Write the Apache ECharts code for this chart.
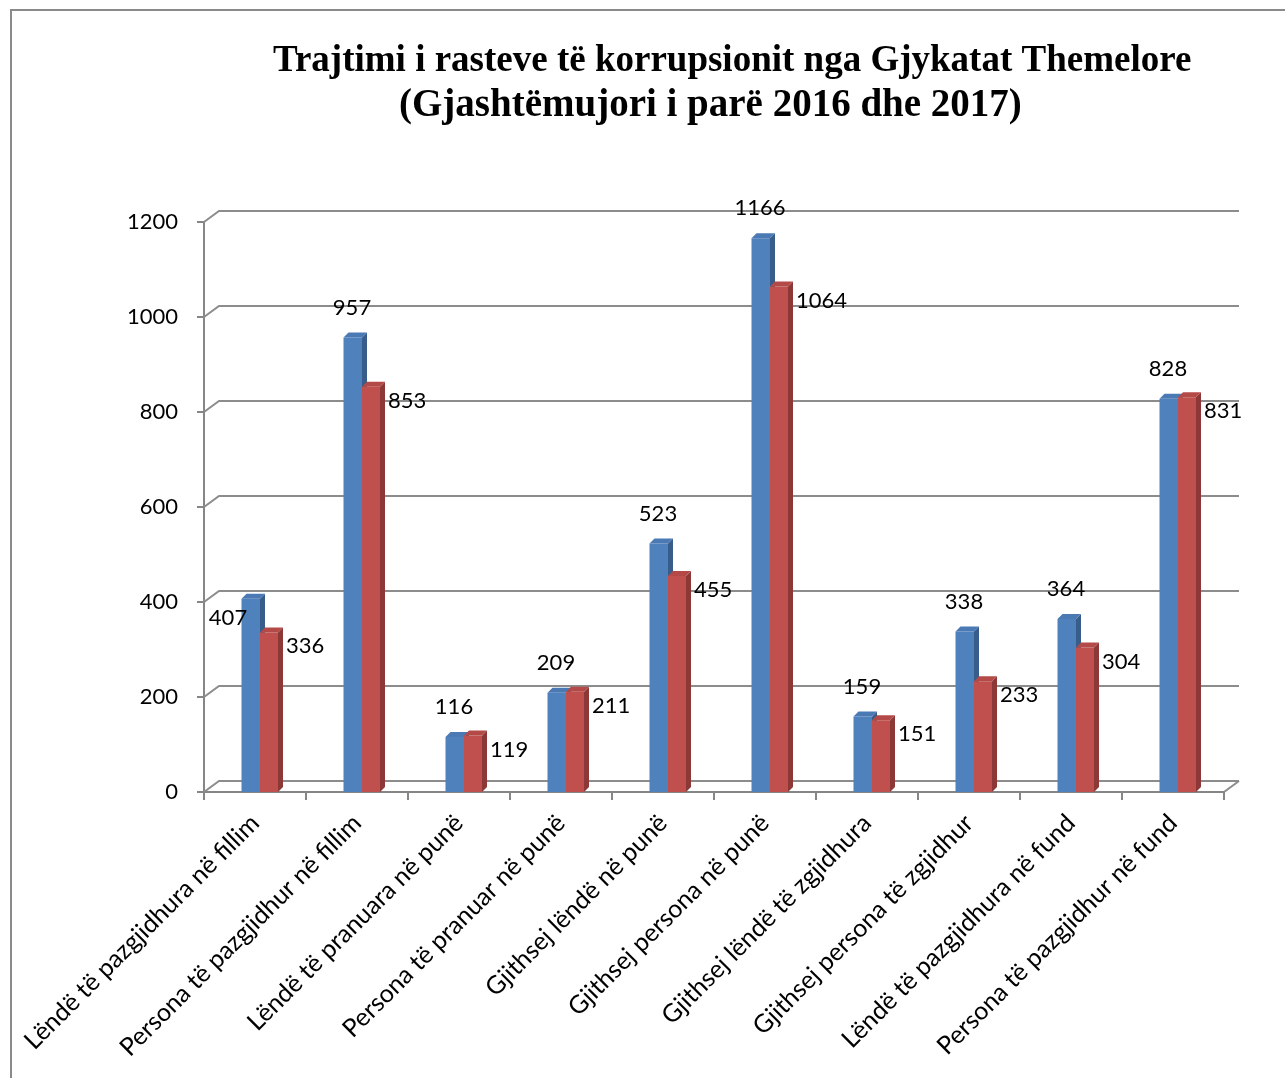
<!DOCTYPE html>
<html>
<head>
<meta charset="utf-8">
<script src="https://cdn.jsdelivr.net/npm/echarts@6/dist/echarts.min.js"></script>
<style>
  html, body { margin: 0; padding: 0; background: #fff; }
  #main { width: 1285px; height: 1078px; }
</style>
</head>
<body>
<div id="main"></div>
<script>
// te dhenat
const categories = [
  'Lëndë të pazgjidhura në fillim',
  'Persona të pazgjidhur në fillim',
  'Lëndë të pranuara në punë',
  'Persona të pranuar në punë',
  'Gjithsej lëndë në punë',
  'Gjithsej persona në punë',
  'Gjithsej lëndë të zgjidhura',
  'Gjithsej persona të zgjidhur',
  'Lëndë të pazgjidhura në fund',
  'Persona të pazgjidhur në fund'
]
const values2016 = [407, 957, 116, 209, 523, 1166, 159, 338, 364, 828]
const values2017 = [336, 853, 119, 211, 455, 1064, 151, 233, 304, 831]
const yTicks = [0, 200, 400, 600, 800, 1000, 1200]

const DX = 15, DY = -11      // zhvendosja e murit te pasem
const BD = 5                 // thellesia e shtyllave

const chart = echarts.init(document.getElementById('main'))

function bar3d(x0, w, yTop, yBase, cFront, cSide, cTop) {
  return [{
    type: 'polygon',
    shape: { points: [[x0 + w, yTop], [x0 + w + BD, yTop - BD], [x0 + w + BD, yBase - BD], [x0 + w, yBase]] },
    style: { fill: cSide }
  }, {
    type: 'rect',
    shape: { x: x0, y: yTop, width: w, height: yBase - yTop },
    style: { fill: cFront }
  }, {
    type: 'polygon',
    shape: { points: [[x0, yTop], [x0 + BD, yTop - BD], [x0 + w + BD, yTop - BD], [x0 + w, yTop]] },
    style: { fill: cTop }
  }]
}

function makeBarSeries(name, vals, kind) {
  return {
    name,
    type: 'custom',
    z: 3,
    data: vals.map((v, i) => [i, v]),
    renderItem: function (params, api) {
      const idx = api.value(0)
      const top = api.coord([idx, api.value(1)])
      const base = api.coord([idx, 0])
      const cx = top[0]
      let children
      if (kind === 0) {
        children = bar3d(cx - 13.5, 18.5, top[1], base[1], '#4f81bd', '#385d8a', '#4a79b4')
        // Excel e zhvendos etiketen e pare poshte majtas
        const first = idx === 0
        children.push({
          type: 'text',
          style: {
            text: String(api.value(1)),
            x: first ? cx - 27 : cx - 5,
            y: first ? top[1] + 19 : top[1] - 30,
            align: 'center', verticalAlign: 'middle',
            fontSize: 22, fontFamily: 'Lato', fill: '#000'
          }
        })
      } else {
        children = bar3d(cx + 5, 18, top[1], base[1], '#c0504d', '#8c3836', '#b44a47')
        children.push({
          type: 'text',
          style: {
            text: String(api.value(1)), x: cx + 31, y: top[1] + 14,
            align: 'left', verticalAlign: 'middle',
            fontSize: 22, fontFamily: 'Lato', fill: '#000'
          }
        })
      }
      return { type: 'group', children }
    }
  }
}

const option = {
  backgroundColor: '#fff',
  animation: false,
  title: [{
    text: 'Trajtimi i rasteve të korrupsionit nga Gjykatat Themelore',
    left: 268, top: 38,
    textStyle: { fontFamily: 'Liberation Serif', fontWeight: 'bold', fontSize: 37, color: '#000' }
  }, {
    text: '(Gjashtëmujori i parë 2016 dhe 2017)',
    left: 394, top: 81,
    textStyle: { fontFamily: 'Liberation Serif', fontWeight: 'bold', fontSize: 39, color: '#000' }
  }],
  graphic: [{
    type: 'rect', silent: true,
    shape: { x: 11, y: 10, width: 1400, height: 1200 },
    style: { fill: 'none', stroke: '#8a8a8a', lineWidth: 2 }
  }],
  grid: { left: 204, right: 61, top: 222, bottom: 286 },
  xAxis: {
    type: 'category',
    data: categories,
    axisLine: { lineStyle: { color: '#868686', width: 2 } },
    axisTick: { show: true, length: 8, lineStyle: { color: '#868686', width: 2 } },
    axisLabel: { rotate: 45, margin: 27, fontSize: 25, fontFamily: 'Lato', color: '#000' }
  },
  yAxis: {
    type: 'value',
    min: 0, max: 1200, interval: 200,
    axisLine: { show: true, lineStyle: { color: '#868686', width: 2 } },
    axisTick: { show: true, length: 7, lineStyle: { color: '#868686', width: 2 } },
    axisLabel: { margin: 26, fontSize: 22, fontFamily: 'Lato', color: '#000', formatter: v => String(v) },
    splitLine: { show: false }
  },
  series: [{
    type: 'custom',
    z: 1,
    silent: true,
    data: yTicks.map(v => [0, v]),
    renderItem: function (params, api) {
      const cs = params.coordSys
      const y = api.coord([0, api.value(1)])[1]
      const st = { stroke: '#8c8c8c', lineWidth: 2, fill: 'none' }
      const children = [{
        type: 'polyline',
        shape: { points: [[cs.x, y], [cs.x + DX, y + DY], [cs.x + cs.width + DX, y + DY]] },
        style: st
      }]
      if (api.value(1) === 0) {
        children.push({
          type: 'line',
          shape: { x1: cs.x + cs.width, y1: y, x2: cs.x + cs.width + DX, y2: y + DY },
          style: st
        })
      }
      return { type: 'group', children }
    }
  },
  makeBarSeries('2016', values2016, 0),
  makeBarSeries('2017', values2017, 1)
  ]
}
chart.setOption(option)
</script>
</body>
</html>
